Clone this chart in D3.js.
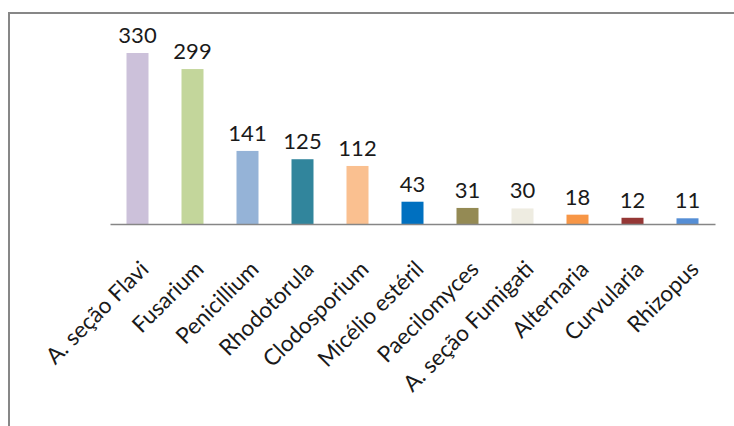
<!DOCTYPE html>
<html>
<head>
    <meta charset="utf-8">
    <script src="https://d3js.org/d3.v7.min.js"></script>
    <style>
        body { margin: 0; background: #fff; font-family: Lato, sans-serif; }
    </style>
</head>
<body>
    <div id="chart"></div>
    <script>
        const categories = ["A. seção Flavi", "Fusarium", "Penicillium", "Rhodotorula", "Clodosporium",
            "Micélio estéril", "Paecilomyces", "A. seção Fumigati", "Alternaria", "Curvularia", "Rhizopus"];
        const counts = [330, 299, 141, 125, 112, 43, 31, 30, 18, 12, 11];
        const barColors = ["#ccc1da", "#c3d69b", "#95b3d7", "#31859c", "#fac090", "#0070c0",
            "#948a54", "#eeece1", "#f79646", "#953735", "#558ed5"];

        const width = 734, height = 426;
        const baseY = 224;

        const svg = d3.select("#chart").append("svg")
            .attr("width", width)
            .attr("height", height);

        // outer frame (cut off at right and bottom)
        svg.append("rect")
            .attr("x", 9).attr("y", 13)
            .attr("width", 800).attr("height", 500)
            .attr("fill", "none")
            .attr("stroke", "#878787")
            .attr("stroke-width", 2);

        const x = d3.scaleBand()
            .domain(categories)
            .range([110, 715])
            .paddingInner(0.6)
            .paddingOuter(0.3);

        const y = d3.scaleLinear()
            .domain([0, 330])
            .range([baseY, 53]);

        const data = categories.map((c, i) => ({ name: c, value: counts[i], color: barColors[i] }));

        svg.selectAll(".bar")
            .data(data)
            .enter().append("rect")
            .attr("class", "bar")
            .attr("x", d => x(d.name))
            .attr("y", d => y(d.value))
            .attr("width", x.bandwidth())
            .attr("height", d => baseY - y(d.value))
            .attr("fill", d => d.color);

        // value labels
        svg.selectAll(".val")
            .data(data)
            .enter().append("text")
            .attr("class", "val")
            .attr("x", d => x(d.name) + x.bandwidth() / 2)
            .attr("y", d => y(d.value) - 10)
            .attr("text-anchor", "middle")
            .style("font-size", "22px")
            .style("fill", "#1a1a1a")
            .text(d => d.value);

        // x axis
        const axis = svg.append("g")
            .attr("transform", "translate(0," + baseY + ")")
            .call(d3.axisBottom(x).tickSize(0).tickPadding(0));
        axis.select(".domain")
            .attr("stroke", "#868686")
            .attr("stroke-width", 1.5);
        axis.selectAll("text")
            .attr("y", 0)
            .attr("dy", "0.35em")
            .attr("text-anchor", "end")
            .attr("transform", "translate(7,41) rotate(-45)")
            .style("font-size", "22.5px")
            .style("font-family", "Lato, sans-serif")
            .style("fill", "#1a1a1a");
    </script>
</body>
</html>
